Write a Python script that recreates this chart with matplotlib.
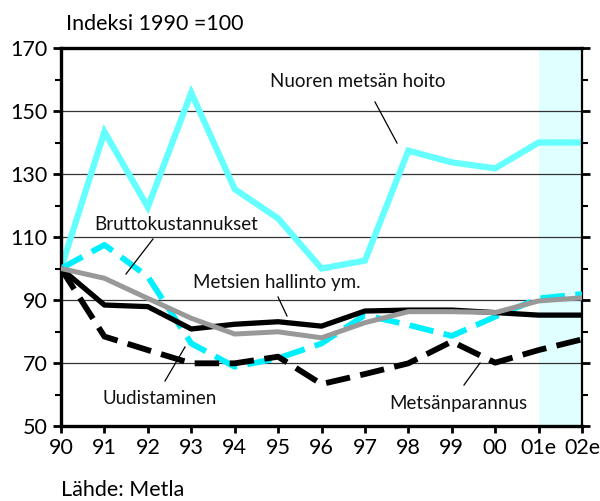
import matplotlib
matplotlib.use("Agg")
import matplotlib.pyplot as plt
from matplotlib.ticker import FixedLocator

plt.rcParams['font.family'] = ['Lato', 'DejaVu Sans']

years = ["90", "91", "92", "93", "94", "95", "96", "97", "98", "99", "00", "01e", "02e"]
nuoren = [100, 143.4, 119.5, 155.8, 125.2, 115.9, 100, 102.5, 137.4, 133.7, 131.8, 140, 140]
hallinto = [100, 88.4, 87.9, 80.8, 82.3, 83.1, 81.7, 86.5, 86.8, 86.8, 86.0, 85.2, 85.2]
brutto = [100, 96.9, 90.5, 84.2, 79.2, 79.9, 78.0, 82.8, 86.3, 86.3, 86.0, 89.7, 90.7]
uudistaminen = [100, 107.5, 97.4, 76.2, 68.8, 71.5, 76.2, 85.2, 82.1, 78.6, 84.7, 90.5, 91.9]
parannus = [100, 78.4, 74.1, 69.9, 69.9, 72.0, 63.3, 66.5, 69.9, 76.8, 70.1, 74.1, 77.5]
y_major = [50, 70, 90, 110, 130, 150, 170]
y_minor = [60, 80, 100, 120, 140, 160]

x = list(range(len(years)))

fig = plt.figure(figsize=(6.0, 5.01), dpi=100)
ax = fig.add_axes([61/600, 1-426/501, 521/600, 378/501])

ax.axvspan(11, 12, color='#e0ffff', zorder=0, lw=0)
for g in y_major[1:-1]:
    ax.axhline(g, color='#333333', lw=0.9, zorder=1)

ax.plot(x, nuoren, color='#66ffff', lw=4.5, zorder=2, solid_joinstyle='miter')
ax.plot(x, uudistaminen, color='#00f0ff', lw=4.2, zorder=3, dashes=(4.2, 1.8), dash_joinstyle='round', dash_capstyle='butt')
ax.plot(x, parannus, color='black', lw=4.2, zorder=4, dashes=(4.2, 1.8), dash_joinstyle='round', dash_capstyle='butt')
ax.plot(x, hallinto, color='black', lw=3.8, zorder=5)
ax.plot(x, brutto, color='#999999', lw=3.6, zorder=6)

ax.set_xlim(0, 12)
ax.set_ylim(50, 170)
ax.set_xticks(x)
ax.set_xticklabels(years)
ax.yaxis.set_major_locator(FixedLocator(y_major))
ax.yaxis.set_minor_locator(FixedLocator(y_minor))
ax.tick_params(axis='both', which='major', labelsize=15.5, direction='out', width=2, length=6, color='black')
ax.tick_params(axis='y', which='minor', direction='out', width=1.5, length=4)
ax.tick_params(axis='x', which='major', pad=4, length=5)
ax.tick_params(axis='y', which='both', right=True, labelright=False)
ax.tick_params(axis='x', top=False)

for s in ['left', 'bottom', 'top']:
    ax.spines[s].set_linewidth(2.4)
ax.spines['right'].set_linewidth(1.6)

fs = 13.5

def pix2data(px, py):
    xd = (px - 61) / 521 * 12
    yd = 50 + (426 - py) / 378 * 120
    return xd, yd

labels = [
    ("Nuoren metsän hoito", (358, 81), (375, 102), (397, 143)),
    ("Bruttokustannukset", (176, 224), (153, 239), (126, 274)),
    ("Metsien hallinto ym.", (277, 282), (278, 297), (287, 316)),
    ("Uudistaminen", (160, 398), (165, 381), (185, 347)),
    ("Metsänparannus", (458, 404), (464, 385), (480, 363)),
]
for txt, tpos, l0, l1 in labels:
    tx, ty = pix2data(*tpos)
    ax.text(tx, ty, txt, fontsize=fs, ha='center', va='center', color='#111111', zorder=8)
    a0 = pix2data(*l0)
    a1 = pix2data(*l1)
    ax.plot([a0[0], a1[0]], [a0[1], a1[1]], color='black', lw=0.9, zorder=8, clip_on=False)

fig.text(66/600, 1-24/501, "Indeksi 1990 =100", fontsize=15.5, ha='left', va='center')
fig.text(61/600, 1-490/501, "Lähde: Metla", fontsize=15.5, ha='left', va='center')

fig.savefig("out.png", dpi=100)
